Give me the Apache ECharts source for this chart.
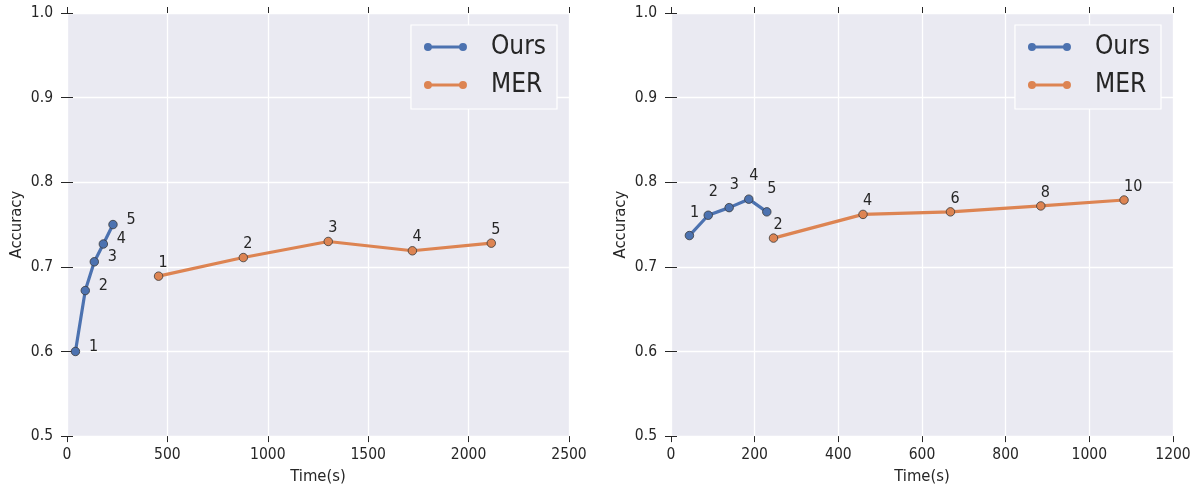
<!DOCTYPE html>
<html>
<head>
<meta charset="utf-8">
<script src="https://cdn.jsdelivr.net/npm/echarts@6/dist/echarts.min.js"></script>
<style>html,body{margin:0;padding:0;background:#fff}#c{width:1196px;height:490px}</style>
</head>
<body>
<div id="c"></div>
<script>
// ---- data ----
var seriesNames = ['Ours', 'MER'];
// left panel
var leftOursTime = [42, 91, 136, 181, 229];
var leftOursAcc = [0.600, 0.672, 0.706, 0.727, 0.750];
var leftOursLabels = ['1', '2', '3', '4', '5'];
var leftMerTime = [456, 878, 1301, 1720, 2113];
var leftMerAcc = [0.689, 0.711, 0.730, 0.719, 0.728];
var leftMerLabels = ['1', '2', '3', '4', '5'];
// right panel
var rightOursTime = [44, 89, 139, 186, 229];
var rightOursAcc = [0.737, 0.761, 0.770, 0.780, 0.765];
var rightOursLabels = ['1', '2', '3', '4', '5'];
var rightMerTime = [245, 459, 668, 884, 1083];
var rightMerAcc = [0.734, 0.762, 0.765, 0.772, 0.779];
var rightMerLabels = ['2', '4', '6', '8', '10'];
// axes
var leftXTicks = [0, 500, 1000, 1500, 2000, 2500];
var rightXTicks = [0, 200, 400, 600, 800, 1000, 1200];
var yTicks = [0.5, 0.6, 0.7, 0.8, 0.9, 1.0];
var xAxisTitle = 'Time(s)';
var yAxisTitle = 'Accuracy';

var FONT = '"DejaVu Sans Condensed", "DejaVu Sans", sans-serif';
var TXT = '#262626';
var BLUE = '#4c72b0', ORANGE = '#dd8452';

function pairs(xs, ys) { return xs.map(function (x, i) { return [x, ys[i]]; }); }

function xAxes(gridIndex, ticks) {
  var min = ticks[0], max = ticks[ticks.length - 1], itv = ticks[1] - ticks[0];
  var base = {
    type: 'value', gridIndex: gridIndex, min: min, max: max, interval: itv,
    axisLine: { show: false },
    axisTick: { show: true, inside: false, length: 6, lineStyle: { color: TXT, width: 1 } }
  };
  var bottom = Object.assign({}, base, {
    position: 'bottom',
    axisLabel: { show: true, color: TXT, fontFamily: FONT, fontSize: 15.5, margin: 11,
      formatter: function (v) { return String(Math.round(v)); } },
    splitLine: { show: true, lineStyle: { color: '#ffffff', width: 1.3 } },
    name: xAxisTitle, nameLocation: 'middle', nameGap: 31,
    nameTextStyle: { color: TXT, fontFamily: FONT, fontSize: 16.5 }
  });
  var top = Object.assign({}, base, {
    position: 'top',
    axisLabel: { show: false }, splitLine: { show: false }
  });
  return [bottom, top];
}
function yAxes(gridIndex) {
  var base = {
    type: 'value', gridIndex: gridIndex, min: yTicks[0], max: yTicks[yTicks.length - 1], interval: 0.1,
    axisLine: { show: false },
    axisTick: { show: true, inside: false, length: 6, lineStyle: { color: TXT, width: 1 } }
  };
  var left = Object.assign({}, base, {
    position: 'left',
    axisLabel: { show: true, color: TXT, fontFamily: FONT, fontSize: 15.5, margin: 14,
      formatter: function (v) { return v.toFixed(1); } },
    splitLine: { show: true, lineStyle: { color: '#ffffff', width: 1.3 } },
    name: yAxisTitle, nameLocation: 'middle', nameGap: 42, nameRotate: 90,
    nameTextStyle: { color: TXT, fontFamily: FONT, fontSize: 16.5 }
  });
  var right = Object.assign({}, base, {
    position: 'right',
    axisLabel: { show: false }, splitLine: { show: false }
  });
  return [left, right];
}

function mkSeries(name, color, xi, yi, xs, ys, labels, off) {
  return {
    type: 'line', name: name, xAxisIndex: xi, yAxisIndex: yi,
    data: pairs(xs, ys),
    symbol: 'circle', symbolSize: 8.5,
    lineStyle: { color: color, width: 3.2 },
    itemStyle: { color: color, borderColor: '#3a3a3a', borderWidth: 0.8 },
    label: {
      show: true, position: 'inside', align: 'left', verticalAlign: 'middle',
      offset: off, color: TXT, fontFamily: FONT, fontSize: 16,
      formatter: function (p) { return labels[p.dataIndex]; }
    },
    emphasis: { disabled: true },
    z: 3
  };
}

var ICON = 'path://M0,4A4,4,0,1,1,8,4A4,4,0,1,1,0,4Z M4,2.5L39,2.5L39,5.5L4,5.5Z M35,4A4,4,0,1,1,43,4A4,4,0,1,1,35,4Z';
function mkLegend(rightPx) {
  return {
    data: seriesNames, orient: 'vertical', right: rightPx, top: 25,
    icon: ICON, itemWidth: 43, itemHeight: 8, itemGap: 12,
    padding: [9, 11, 11, 13],
    backgroundColor: '#eaeaf2', borderColor: '#ffffff', borderWidth: 1.2, borderRadius: 0,
    selectedMode: false,
    itemStyle: { borderWidth: 0 },
    textStyle: { color: TXT, fontFamily: FONT, fontSize: 26, lineHeight: 26, padding: [0, 0, 0, 19] }
  };
}

var lx = xAxes(0, leftXTicks), rx = xAxes(1, rightXTicks);
var ly = yAxes(0), ry = yAxes(1);

var option = {
  animation: false,
  backgroundColor: '#ffffff',
  grid: [
    { left: 67, right: 627, top: 13, bottom: 49, show: true, backgroundColor: '#eaeaf2', borderWidth: 0 },
    { left: 671, right: 23, top: 13, bottom: 49, show: true, backgroundColor: '#eaeaf2', borderWidth: 0 }
  ],
  xAxis: [lx[0], lx[1], rx[0], rx[1]],
  yAxis: [ly[0], ly[1], ry[0], ry[1]],
  legend: [mkLegend(639), mkLegend(35)],
  series: [
    mkSeries(seriesNames[0], BLUE, 0, 0, leftOursTime, leftOursAcc, leftOursLabels, [13.5, -5]),
    mkSeries(seriesNames[1], ORANGE, 0, 0, leftMerTime, leftMerAcc, leftMerLabels, [0, -13.5]),
    mkSeries(seriesNames[0], BLUE, 2, 2, rightOursTime, rightOursAcc, rightOursLabels, [0.5, -23]),
    mkSeries(seriesNames[1], ORANGE, 2, 2, rightMerTime, rightMerAcc, rightMerLabels, [0, -13.5])
  ]
};
var chart = echarts.init(document.getElementById('c'), null, { renderer: 'canvas' });
chart.setOption(option);
</script>
</body>
</html>
